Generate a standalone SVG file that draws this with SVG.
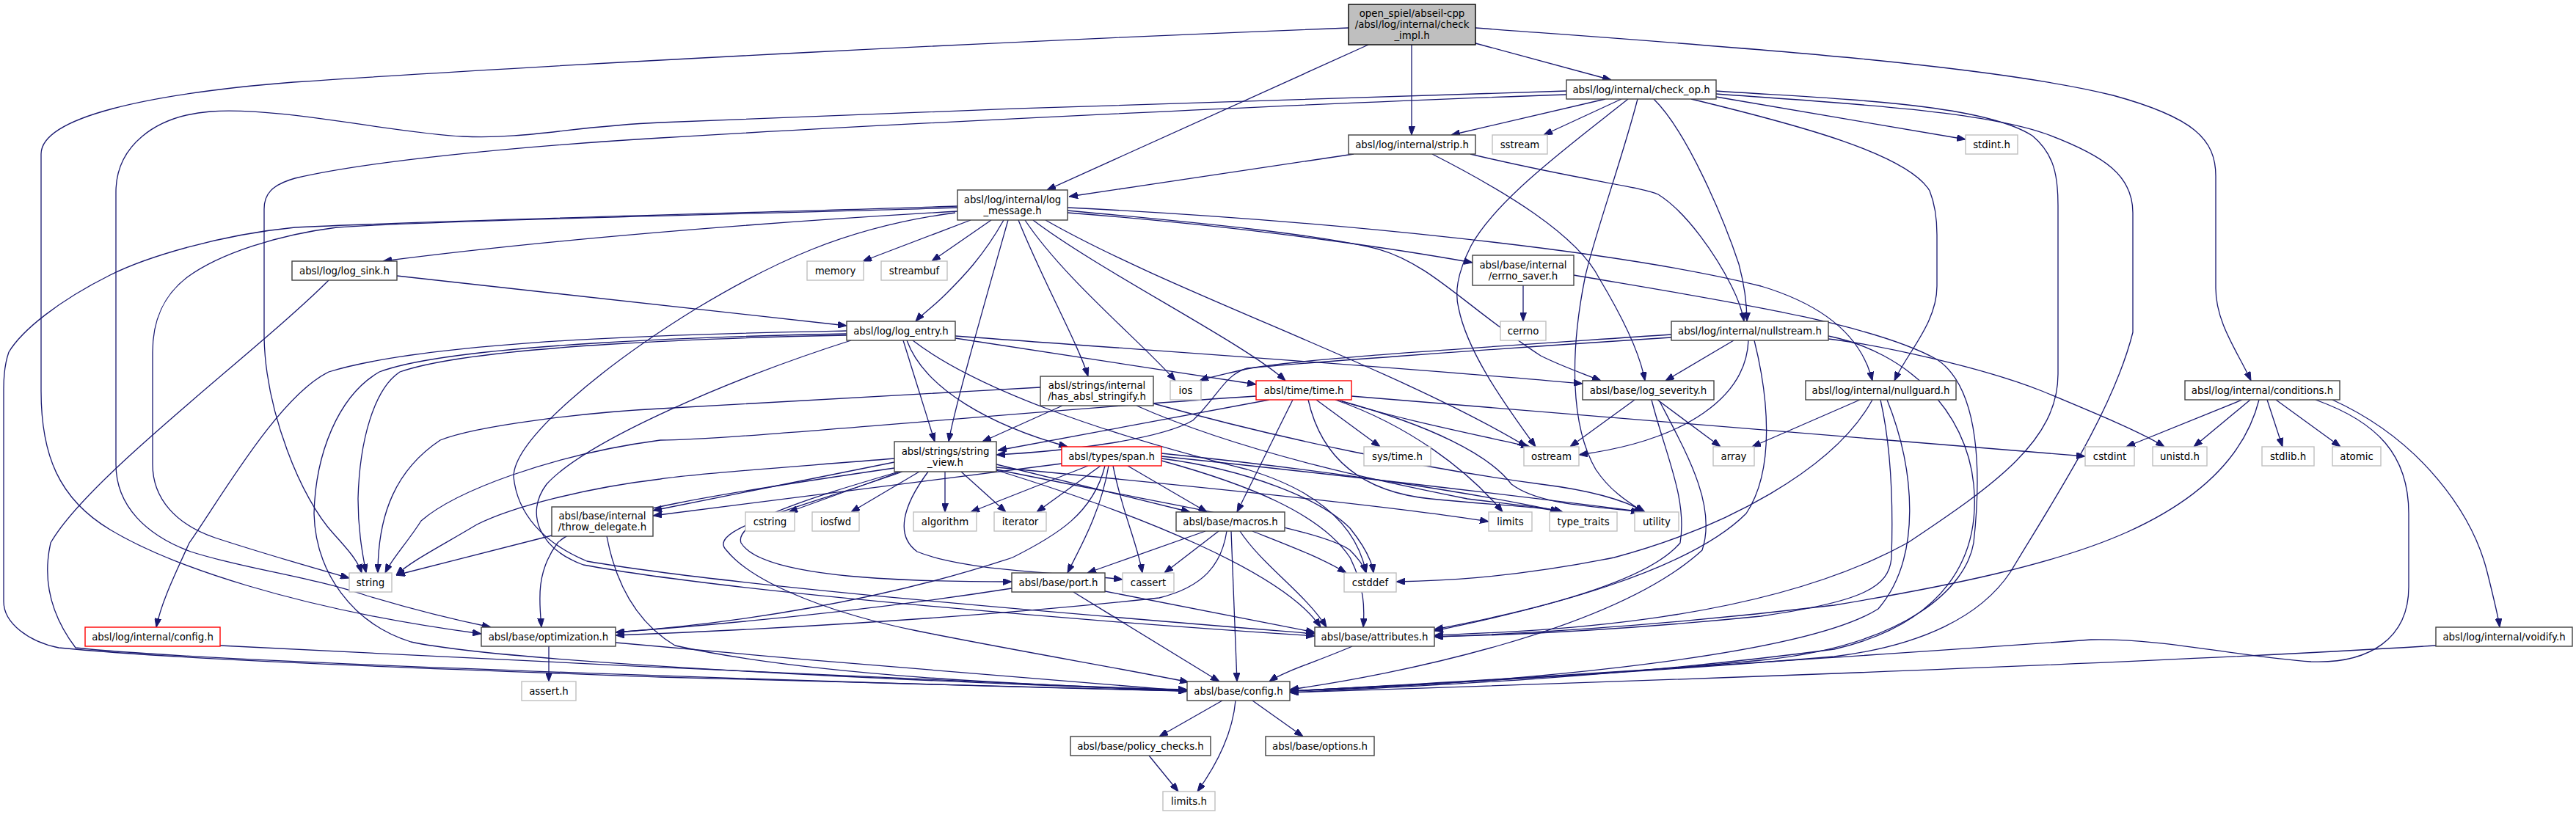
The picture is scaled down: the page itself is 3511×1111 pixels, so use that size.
<svg xmlns="http://www.w3.org/2000/svg" width="3511" height="1111" viewBox="0 0 3511 1111">
<defs>
<marker id="ah" viewBox="0 0 12 9" refX="12" refY="4.5" markerWidth="12" markerHeight="9" markerUnits="userSpaceOnUse" orient="auto"><path d="M0,0L12,4.5L0,9z" fill="#191970" stroke="#191970" stroke-width="1"/></marker>
<style>
rect{fill:#fff;stroke:#404040;stroke-width:1.4}
.g rect{stroke:#bfbfbf}
.r rect{stroke:#ff0000}
.root rect{fill:#bfbfbf;stroke:#000}
text{font-family:"DejaVu Sans","Liberation Sans",sans-serif;font-size:13.33px;text-anchor:middle;fill:#000}
#edges path{fill:none;stroke:#191970;stroke-width:1.3;marker-end:url(#ah)}
</style>
</defs>
<rect x="0" y="0" width="3511" height="1111" style="fill:#fff;stroke:none"/>
<g id="edges">
<path d="M1838,38 C1400,55 800,85 400,112 C200,128 56,160 56,210 L56,533 C56,620 80,680 150,722 C230,770 400,830 656,864"/>
<path d="M1865,61 L1427,259"/>
<path d="M1924,61 L1924,184"/>
<path d="M2011,59 L2196,109"/>
<path d="M2011,38 C2300,60 2700,85 2880,130 C2990,160 3020,190 3020,240 L3020,393 C3020,440 3050,480 3068,519"/>
<path d="M2135,124 C1800,133 1300,150 900,167 C780,172 720,190 631,186 C540,182 380,145 287,152 C210,158 158,200 158,262 L158,633 C158,690 200,730 260,752 C330,775 420,785 500,812 C560,830 620,845 669,855"/>
<path d="M2135,129 C1800,140 1200,170 900,188 C700,200 500,220 402,243 C370,252 360,265 360,285 L360,460 C362,560 410,680 455,728 C475,750 488,765 493,781"/>
<path d="M2188,135 L1978,184"/>
<path d="M2210,135 L2104,184"/>
<path d="M2219,135 C2150,190 2040,270 2005,335 C1985,375 1983,400 1988,420 C2000,480 2050,550 2093,609"/>
<path d="M2232,135 C2210,220 2170,330 2160,380 C2140,480 2140,580 2175,640 C2195,670 2220,685 2240,698"/>
<path d="M2254,135 C2300,180 2350,300 2370,360 C2378,390 2381,415 2381,438"/>
<path d="M2305,135 C2450,170 2600,210 2630,260 C2638,280 2640,300 2640,320 L2640,390 C2640,440 2600,480 2582,519"/>
<path d="M2339,132 L2679,190"/>
<path d="M2339,124 C2500,135 2700,140 2770,185 C2800,210 2805,240 2805,280 L2805,510 C2805,600 2720,660 2600,740 C2400,850 2100,860 1955,866"/>
<path d="M2339,128 C2500,140 2700,150 2790,183 C2870,213 2907,240 2907,290 L2907,453 C2880,560 2800,680 2740,780 C2700,840 2620,880 2500,895 C2200,920 1900,935 1758,942"/>
<path d="M1845,210 L1457,268"/>
<path d="M1952,210 C2050,260 2150,320 2180,380 C2210,430 2235,480 2242,519"/>
<path d="M2004,210 C2150,245 2240,255 2260,265 C2300,290 2340,350 2360,390 C2370,410 2375,425 2377,438"/>
<path d="M1323,300 L1176,356"/>
<path d="M1351,300 L1270,356"/>
<path d="M1368,300 C1340,350 1310,380 1290,400 C1270,420 1255,430 1248,438"/>
<path d="M1374,300 C1340,420 1300,560 1293,602"/>
<path d="M1388,300 C1420,380 1470,470 1483,513"/>
<path d="M1397,300 C1450,380 1560,470 1602,519"/>
<path d="M1408,300 C1500,370 1700,470 1752,519"/>
<path d="M1425,300 C1600,400 1900,500 2081,609"/>
<path d="M1455,290 C1650,305 1850,330 2007,358"/>
<path d="M1455,287 C1650,305 1800,320 1880,340 C1950,360 2000,420 2100,485 C2130,500 2160,510 2182,519"/>
<path d="M1455,283 C1800,300 2200,340 2400,390 C2500,420 2540,470 2552,519"/>
<path d="M1305,283 C1100,290 600,300 459,310 C380,320 300,345 255,378 C220,405 208,440 208,480 L208,633 C208,680 240,715 293,733 C360,755 420,772 476,788"/>
<path d="M1305,281 C1100,288 600,300 402,310 C300,320 200,350 150,375 C80,410 30,450 12,480 C5,500 5,520 5,530 L5,820 C5,850 40,875 80,883 C250,900 600,912 900,923 C1200,932 1450,938 1618,942"/>
<path d="M1305,288 C1100,300 800,320 522,356"/>
<path d="M1302,290 C1150,310 1050,360 950,420 C820,500 700,600 700,650 C705,700 740,740 800,765 C1000,800 1500,840 1792,864"/>
<path d="M2076,389 L2076,438"/>
<path d="M2145,375 C2350,410 2550,440 2640,490 C2700,530 2700,650 2690,740 C2680,800 2600,880 2400,900 C2200,920 1900,935 1758,942"/>
<path d="M541,376 L1154,444"/>
<path d="M448,382 C350,480 120,650 69,740 C60,780 63,830 103,883 C300,905 1300,935 1618,942"/>
<path d="M1154,451 C1000,454 600,460 448,507 C380,540 300,680 258,740 C240,780 220,820 213,855"/>
<path d="M1154,457 C1000,460 650,470 545,507 C510,530 490,600 488,680 C488,720 493,750 499,781"/>
<path d="M1154,455 C1000,458 620,468 517,507 C460,540 430,620 428,700 C430,780 480,850 560,875 C700,905 1300,930 1618,942"/>
<path d="M1231,464 L1274,602"/>
<path d="M1236,464 C1260,530 1350,580 1455,609"/>
<path d="M1244,464 C1330,530 1500,590 1700,640 C1800,670 1850,720 1862,781"/>
<path d="M1302,458 C1600,480 1900,500 2157,523"/>
<path d="M1302,461 L1712,524"/>
<path d="M1160,464 C1000,515 800,600 745,660 C715,700 735,748 795,770 C1000,808 1500,848 1792,867"/>
<path d="M1418,528 C1200,540 950,555 900,557 C800,562 650,580 600,600 C540,640 515,700 515,781"/>
<path d="M1448,553 L1339,602"/>
<path d="M1549,553 C1700,620 1900,660 2000,680 C2080,690 2110,692 2130,698"/>
<path d="M1572,550 C1750,600 1950,640 2100,660 C2180,670 2220,685 2242,698"/>
<path d="M2278,456 C2000,475 1750,490 1690,505 C1660,512 1645,515 1635,519"/>
<path d="M2278,460 C2000,478 1760,496 1700,502 C1670,510 1660,540 1626,573 C1580,600 1450,615 1358,620"/>
<path d="M2363,464 L2270,519"/>
<path d="M2383,464 C2380,540 2300,600 2152,620"/>
<path d="M2391,464 C2410,540 2420,640 2380,700 C2300,780 2100,830 1955,860"/>
<path d="M2492,458 C2600,480 2680,560 2690,660 C2700,760 2650,850 2500,885 C2200,925 1900,937 1758,944"/>
<path d="M2492,462 C2560,470 2700,500 2783,533 C2860,565 2920,590 2950,609"/>
<path d="M1730,545 L1360,614"/>
<path d="M1712,540 C1400,560 1000,600 900,600 C750,620 620,670 574,710 C555,740 535,760 525,781"/>
<path d="M1762,545 L1686,698"/>
<path d="M1794,545 L1881,609"/>
<path d="M1823,545 C1900,570 2000,590 2085,609"/>
<path d="M1820,545 C1920,580 2000,640 2048,698"/>
<path d="M1783,545 C1800,620 1850,670 1950,680 C2050,690 2100,690 2125,698"/>
<path d="M1829,547 C1950,580 2030,620 2060,660 C2100,690 2180,690 2235,698"/>
<path d="M1842,540 L2842,622"/>
<path d="M1447,632 L890,703"/>
<path d="M1483,635 L1323,698"/>
<path d="M1500,635 L1413,698"/>
<path d="M1506,635 C1490,700 1440,730 1380,760 C1200,820 1000,850 839,862"/>
<path d="M1511,635 C1500,700 1470,750 1455,781"/>
<path d="M1517,635 C1530,700 1550,740 1557,781"/>
<path d="M1537,635 L1645,698"/>
<path d="M1583,625 C1700,640 1800,680 1840,720 C1860,745 1870,765 1872,781"/>
<path d="M1583,618 C1800,640 2000,670 2130,698"/>
<path d="M1583,622 C1850,650 2100,680 2240,698"/>
<path d="M1583,628 C1700,660 1800,700 1840,760 C1860,800 1860,830 1858,855"/>
<path d="M1219,625 C1100,635 950,645 900,653 C800,665 700,690 650,715 C600,745 560,765 540,784"/>
<path d="M1219,630 L890,696"/>
<path d="M1227,643 L1075,698"/>
<path d="M1253,643 L1160,698"/>
<path d="M1288,643 L1288,698"/>
<path d="M1310,643 L1371,698"/>
<path d="M1358,633 L1622,698"/>
<path d="M1265,643 C1230,690 1220,730 1250,752 C1320,780 1450,780 1530,790"/>
<path d="M1225,643 C1100,680 1000,710 1010,740 C1040,790 1250,793 1379,793"/>
<path d="M1219,638 C1000,670 800,700 760,740 C730,780 735,820 738,855"/>
<path d="M1230,643 C1100,690 960,720 990,750 C1030,800 1150,840 1250,860 C1400,890 1550,915 1620,930"/>
<path d="M1358,637 C1600,660 1900,690 2029,711"/>
<path d="M1358,640 C1600,690 1800,720 1840,750 C1855,765 1860,775 1862,781"/>
<path d="M1358,641 C1550,700 1750,780 1800,855"/>
<path d="M752,730 L540,784"/>
<path d="M827,731 C840,800 870,850 920,880 C1100,920 1400,935 1618,940"/>
<path d="M1643,724 L1482,781"/>
<path d="M1661,724 L1587,781"/>
<path d="M1672,724 C1665,770 1640,800 1580,815 C1300,845 1000,860 839,866"/>
<path d="M1678,724 L1686,929"/>
<path d="M1690,724 C1720,770 1780,810 1808,855"/>
<path d="M1707,724 C1760,745 1800,760 1835,781"/>
<path d="M1379,802 C1200,830 1000,850 839,862"/>
<path d="M1463,807 L1662,929"/>
<path d="M1506,806 L1792,862"/>
<path d="M748,881 L748,929"/>
<path d="M839,876 C1100,900 1400,925 1618,942"/>
<path d="M1843,881 C1800,900 1750,915 1730,929"/>
<path d="M300,880 C700,900 1300,930 1618,942"/>
<path d="M2228,545 L2140,609"/>
<path d="M2259,545 L2345,609"/>
<path d="M2251,545 C2270,620 2300,680 2290,740 C2240,800 2050,840 1955,858"/>
<path d="M2262,547 C2300,620 2340,690 2320,750 C2200,860 1900,920 1758,940"/>
<path d="M2535,545 L2388,609"/>
<path d="M2552,545 C2500,640 2350,720 2200,760 C2050,790 1950,792 1903,793"/>
<path d="M2563,545 C2580,620 2580,700 2578,760 C2575,800 2540,820 2400,840 C2200,860 2050,866 1955,868"/>
<path d="M2572,545 C2610,640 2620,760 2560,830 C2450,900 2000,935 1758,942"/>
<path d="M3056,545 L2898,609"/>
<path d="M3067,545 L2990,609"/>
<path d="M3079,545 C3060,620 3000,680 2900,725 C2800,770 2650,800 2500,825 C2250,855 2050,865 1955,868"/>
<path d="M3090,545 L3111,609"/>
<path d="M3102,545 L3190,609"/>
<path d="M3156,545 C3240,575 3283,620 3283,700 L3283,800 C3283,870 3230,905 3150,902 C3050,895 2950,870 2850,872 C2600,890 2000,930 1758,942"/>
<path d="M3179,545 C3300,600 3370,700 3390,780 C3400,820 3405,840 3407,855"/>
<path d="M3320,880 C3000,900 2500,920 1758,944"/>
<path d="M1666,955 L1580,1004"/>
<path d="M1707,955 L1776,1004"/>
<path d="M1684,955 C1680,1000 1660,1040 1632,1079"/>
<path d="M1566,1030 L1606,1079"/>
</g>
<g id="n1" class="root"><rect x="1838" y="6" width="173" height="55"/><text x="1924.5" y="23.3">open_spiel/abseil-cpp</text><text x="1924.5" y="38.3">/absl/log/internal/check</text><text x="1924.5" y="53.3">_impl.h</text></g>
<g id="n2"><rect x="2135" y="109" width="204" height="26"/><text x="2237" y="126.8">absl/log/internal/check_op.h</text></g>
<g id="n3"><rect x="1838" y="184" width="173" height="26"/><text x="1924.5" y="201.8">absl/log/internal/strip.h</text></g>
<g id="n4" class="g"><rect x="2034" y="184" width="75" height="26"/><text x="2071.5" y="201.8">sstream</text></g>
<g id="n5" class="g"><rect x="2679" y="184" width="71" height="26"/><text x="2714.5" y="201.8">stdint.h</text></g>
<g id="n6"><rect x="1305" y="259" width="150" height="41"/><text x="1380" y="276.8">absl/log/internal/log</text><text x="1380" y="291.8">_message.h</text></g>
<g id="n7" class="g"><rect x="1100" y="356" width="77" height="26"/><text x="1138.5" y="373.8">memory</text></g>
<g id="n8" class="g"><rect x="1201" y="356" width="90" height="26"/><text x="1246" y="373.8">streambuf</text></g>
<g id="n9"><rect x="2007" y="348" width="138" height="41"/><text x="2076" y="365.8">absl/base/internal</text><text x="2076" y="380.8">/errno_saver.h</text></g>
<g id="n10"><rect x="398" y="356" width="143" height="26"/><text x="469.5" y="373.8">absl/log/log_sink.h</text></g>
<g id="n11"><rect x="1154" y="438" width="148" height="26"/><text x="1228" y="455.8">absl/log/log_entry.h</text></g>
<g id="n12" class="g"><rect x="2045" y="438" width="62" height="26"/><text x="2076" y="455.8">cerrno</text></g>
<g id="n13"><rect x="2278" y="438" width="214" height="26"/><text x="2385" y="455.8">absl/log/internal/nullstream.h</text></g>
<g id="n14"><rect x="1418" y="513" width="154" height="40"/><text x="1495" y="530.3">absl/strings/internal</text><text x="1495" y="545.3">/has_absl_stringify.h</text></g>
<g id="n15" class="g"><rect x="1595" y="519" width="42" height="26"/><text x="1616" y="536.8">ios</text></g>
<g id="n16" class="r"><rect x="1712" y="519" width="130" height="26"/><text x="1777" y="536.8">absl/time/time.h</text></g>
<g id="n17"><rect x="2157" y="519" width="179" height="26"/><text x="2246.5" y="536.8">absl/base/log_severity.h</text></g>
<g id="n18"><rect x="2461" y="519" width="205" height="26"/><text x="2563.5" y="536.8">absl/log/internal/nullguard.h</text></g>
<g id="n19"><rect x="2978" y="519" width="211" height="26"/><text x="3083.5" y="536.8">absl/log/internal/conditions.h</text></g>
<g id="n20"><rect x="1219" y="602" width="139" height="41"/><text x="1288.5" y="619.8">absl/strings/string</text><text x="1288.5" y="634.8">_view.h</text></g>
<g id="n21" class="r"><rect x="1447" y="609" width="136" height="26"/><text x="1515" y="626.8">absl/types/span.h</text></g>
<g id="n22" class="g"><rect x="1859" y="609" width="91" height="26"/><text x="1904.5" y="626.8">sys/time.h</text></g>
<g id="n23" class="g"><rect x="2077" y="609" width="75" height="26"/><text x="2114.5" y="626.8">ostream</text></g>
<g id="n24" class="g"><rect x="2335" y="609" width="56" height="26"/><text x="2363" y="626.8">array</text></g>
<g id="n25" class="g"><rect x="2842" y="609" width="67" height="26"/><text x="2875.5" y="626.8">cstdint</text></g>
<g id="n26" class="g"><rect x="2934" y="609" width="74" height="26"/><text x="2971" y="626.8">unistd.h</text></g>
<g id="n27" class="g"><rect x="3083" y="609" width="71" height="26"/><text x="3118.5" y="626.8">stdlib.h</text></g>
<g id="n28" class="g"><rect x="3179" y="609" width="66" height="26"/><text x="3212" y="626.8">atomic</text></g>
<g id="n29"><rect x="752" y="691" width="138" height="40"/><text x="821" y="708.3">absl/base/internal</text><text x="821" y="723.3">/throw_delegate.h</text></g>
<g id="n30" class="g"><rect x="1016" y="698" width="67" height="26"/><text x="1049.5" y="715.8">cstring</text></g>
<g id="n31" class="g"><rect x="1107" y="698" width="64" height="26"/><text x="1139" y="715.8">iosfwd</text></g>
<g id="n32" class="g"><rect x="1245" y="698" width="86" height="26"/><text x="1288" y="715.8">algorithm</text></g>
<g id="n33" class="g"><rect x="1355" y="698" width="71" height="26"/><text x="1390.5" y="715.8">iterator</text></g>
<g id="n34"><rect x="1603" y="698" width="148" height="26"/><text x="1677" y="715.8">absl/base/macros.h</text></g>
<g id="n35" class="g"><rect x="2029" y="698" width="59" height="26"/><text x="2058.5" y="715.8">limits</text></g>
<g id="n36" class="g"><rect x="2112" y="698" width="92" height="26"/><text x="2158" y="715.8">type_traits</text></g>
<g id="n37" class="g"><rect x="2228" y="698" width="60" height="26"/><text x="2258" y="715.8">utility</text></g>
<g id="n38" class="g"><rect x="476" y="781" width="58" height="26"/><text x="505" y="798.8">string</text></g>
<g id="n39"><rect x="1379" y="781" width="127" height="26"/><text x="1442.5" y="798.8">absl/base/port.h</text></g>
<g id="n40" class="g"><rect x="1530" y="781" width="70" height="26"/><text x="1565" y="798.8">cassert</text></g>
<g id="n41" class="g"><rect x="1832" y="781" width="71" height="26"/><text x="1867.5" y="798.8">cstddef</text></g>
<g id="n42" class="r"><rect x="116" y="855" width="184" height="26"/><text x="208" y="872.8">absl/log/internal/config.h</text></g>
<g id="n43"><rect x="656" y="855" width="183" height="26"/><text x="747.5" y="872.8">absl/base/optimization.h</text></g>
<g id="n44"><rect x="1792" y="855" width="163" height="26"/><text x="1873.5" y="872.8">absl/base/attributes.h</text></g>
<g id="n45"><rect x="3320" y="855" width="186" height="26"/><text x="3413" y="872.8">absl/log/internal/voidify.h</text></g>
<g id="n46" class="g"><rect x="711" y="929" width="74" height="26"/><text x="748" y="946.8">assert.h</text></g>
<g id="n47"><rect x="1618" y="929" width="140" height="26"/><text x="1688" y="946.8">absl/base/config.h</text></g>
<g id="n48"><rect x="1459" y="1004" width="191" height="26"/><text x="1554.5" y="1021.8">absl/base/policy_checks.h</text></g>
<g id="n49"><rect x="1725" y="1004" width="148" height="26"/><text x="1799" y="1021.8">absl/base/options.h</text></g>
<g id="n50" class="g"><rect x="1585" y="1079" width="71" height="26"/><text x="1620.5" y="1096.8">limits.h</text></g>
</svg>
